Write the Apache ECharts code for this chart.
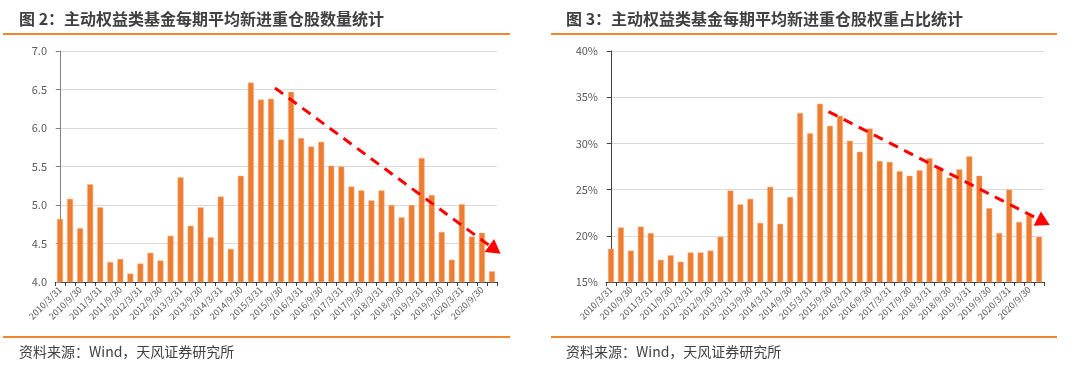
<!DOCTYPE html>
<html>
<head>
<meta charset="utf-8">
<script src="https://cdn.jsdelivr.net/npm/echarts@6/dist/echarts.min.js"></script>
<style>
html,body{margin:0;padding:0;background:#fff;}
#c{width:1080px;height:367px;}
</style>
</head>
<body>
<div id="c"></div>
<script>
// Categories: quarter ends 2010Q1..2020Q4
const years = [2010,2011,2012,2013,2014,2015,2016,2017,2018,2019,2020];
const quarterEnds = ['3/31','6/30','9/30','12/31'];
const categories = [];
years.forEach(y => quarterEnds.forEach(q => categories.push(y + '/' + q)));

// Figure 2: average number of new heavy holdings per period
const newStockCount = [4.82,5.08,4.70,5.27,4.97,4.26,4.30,4.11,4.24,4.38,4.28,4.60,5.36,4.73,4.97,4.58,5.11,4.43,5.38,6.59,6.37,6.38,
  5.85,6.47,5.87,5.76,5.82,5.51,5.50,5.24,5.19,5.06,5.19,5.00,4.84,5.00,5.61,5.13,4.65,4.29,5.01,4.59,4.64,4.14];
// Figure 3: weight share of new heavy holdings (%)
const newStockWeight = [18.6,20.9,18.4,21.0,20.3,17.4,17.9,17.2,18.2,18.2,18.4,19.9,24.9,23.4,24.0,21.4,25.3,21.3,24.2,33.3,31.1,34.3,
  31.9,33.0,30.3,29.1,31.6,28.1,28.0,27.0,26.5,27.1,28.4,27.4,26.3,27.2,28.6,26.5,23.0,20.3,25.0,21.5,22.2,19.9];

// Trend arrows (category index, value)
const trend1 = [[21.4, 6.52],[43.3, 4.42]];
const trend2 = [[21.85, 33.44],[43.45, 21.52]];

const titles = ['图 2：主动权益类基金每期平均新进重仓股数量统计','图 3：主动权益类基金每期平均新进重仓股权重占比统计'];
const sourceText = '资料来源：Wind，天风证券研究所';

const font = '"Microsoft YaHei","Noto Sans CJK SC",sans-serif';
const orange = '#ED7D31';
const lineOrange = '#F0862F';

function xCat(gridIndex){
  return {
    type:'category', gridIndex, data:categories,
    axisLine:{lineStyle:{color:'#404040',width:1}},
    axisTick:{show:true,interval:0,length:4,lineStyle:{color:'#404040'}},
    axisLabel:{interval:1,rotate:45,fontSize:9,color:'#595959',fontFamily:font,margin:6},
    splitLine:{show:false}
  };
}
function xVal(gridIndex){
  return {type:'value',gridIndex,min:-0.5,max:43.5,show:false};
}
function arrowSeries(idx, pts){
  return {type:'line',xAxisIndex:idx,yAxisIndex:idx,data:[],
    markLine:{silent:true,symbol:['none','triangle'],symbolSize:[16,14],
      label:{show:false},
      lineStyle:{color:'#FF0000',type:[10,7],width:3},
      data:[[{coord:pts[0]},{coord:pts[1]}]]}};
}

const chart = echarts.init(document.getElementById('c'));
chart.setOption({
  animation:false,
  backgroundColor:'#fff',
  textStyle:{fontFamily:font},
  title:[
    {text:titles[0],left:14,top:6,textStyle:{fontSize:16,fontWeight:'bold',color:'#404040',fontFamily:font}},
    {text:titles[1],left:561,top:6,textStyle:{fontSize:16,fontWeight:'bold',color:'#404040',fontFamily:font}},
    {text:sourceText,left:14,top:340,textStyle:{fontSize:14,fontWeight:'normal',color:'#404040',fontFamily:font}},
    {text:sourceText,left:561,top:340,textStyle:{fontSize:14,fontWeight:'normal',color:'#404040',fontFamily:font}}
  ],
  graphic:[
    {type:'line',shape:{x1:3,y1:34,x2:510,y2:34},style:{stroke:lineOrange,lineWidth:2}},
    {type:'line',shape:{x1:551,y1:34,x2:1057,y2:34},style:{stroke:lineOrange,lineWidth:2}},
    {type:'line',shape:{x1:3,y1:337,x2:510,y2:337},style:{stroke:lineOrange,lineWidth:2}},
    {type:'line',shape:{x1:551,y1:337,x2:1057,y2:337},style:{stroke:lineOrange,lineWidth:2}}
  ],
  grid:[
    {left:55,width:442,top:51,height:231},
    {left:606,width:438,top:51,height:231}
  ],
  xAxis:[xCat(0), xCat(1), xVal(0), xVal(1)],
  yAxis:[
    {type:'value',gridIndex:0,min:4,max:7,interval:0.5,
     axisLine:{show:true,lineStyle:{color:'#808080'}},
     axisTick:{show:true,length:4,lineStyle:{color:'#808080'}},
     axisLabel:{formatter:v=>v.toFixed(1),fontSize:11,color:'#595959',fontFamily:font},
     splitLine:{lineStyle:{color:'#d9d9d9'}}},
    {type:'value',gridIndex:1,min:15,max:40,interval:5,
     axisLine:{show:true,lineStyle:{color:'#404040'}},
     axisTick:{show:true,length:4,lineStyle:{color:'#404040'}},
     axisLabel:{formatter:v=>v+'%',fontSize:11,color:'#595959',fontFamily:font},
     splitLine:{lineStyle:{color:'#d9d9d9'}}},
    {type:'value',gridIndex:0,min:4,max:7,show:false},
    {type:'value',gridIndex:1,min:15,max:40,show:false}
  ],
  series:[
    {type:'bar',xAxisIndex:0,yAxisIndex:0,data:newStockCount,barCategoryGap:'40%',
     itemStyle:{color:orange,borderColor:'#F6B88C',borderWidth:0.5}},
    {type:'bar',xAxisIndex:1,yAxisIndex:1,data:newStockWeight,barCategoryGap:'40%',
     itemStyle:{color:orange,borderColor:'#F6B88C',borderWidth:0.5}},
    arrowSeries(2, trend1),
    arrowSeries(3, trend2)
  ]
});
</script>
</body>
</html>
